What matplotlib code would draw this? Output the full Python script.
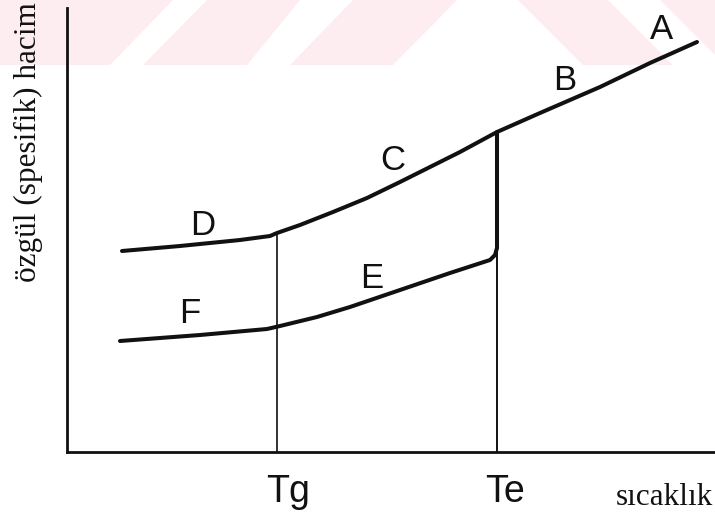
import matplotlib.pyplot as plt
from matplotlib.patches import Polygon

W, H = 715, 517  # piksel

# sıvı + cam eğrisi (A-B-C-D), keyfi birimler
ust_T = [55, 113, 173, 203, 210, 233, 266, 300, 333, 363, 393, 430, 473, 533, 583, 630]
ust_V = [201, 206, 212, 216, 219, 227, 240, 254, 270, 285, 300, 320, 339, 365, 389, 410]

# kristal eğrisi (Te'de düşüş, E-F)
alt_T = [53, 133, 200, 213, 250, 283, 333, 383, 423, 428, 430, 430]
alt_V = [111, 117, 123, 126, 135, 145, 162, 179, 192, 197, 204, 320]

Tg, Te = 210, 430
Tg_V, Te_V = 219, 204

harfler = ['A', 'B', 'C', 'D', 'E', 'F']
harf_yer = [(662, 39), (565, 90), (393, 170), (203, 235), (372, 288), (190, 323)]

sicaklik_etiket = ['Tg', 'Te']
sicaklik_yer = [(288, 502), (505, 502)]

# arka plandaki soluk pembe filigran (piksel)
filigran = [
    [(0, 0), (173, 0), (110, 65), (0, 65)],
    [(207, 0), (300, 0), (247, 65), (143, 65)],
    [(353, 0), (457, 0), (393, 65), (290, 65)],
    [(518, 0), (608, 0), (673, 65), (583, 65)],
    [(660, 0), (715, 0), (715, 55)],
]

renk = '#111111'
fig = plt.figure(figsize=(W / 100, H / 100), dpi=100)

bg = fig.add_axes([0, 0, 1, 1])
bg.set_xlim(0, W)
bg.set_ylim(H, 0)
bg.axis('off')
for p in filigran:
    bg.add_patch(Polygon(p, closed=True, fc='#fdedf0', ec='none'))

ax = fig.add_axes([67 / W, 65 / H, 648 / W, 444 / H])
ax.patch.set_alpha(0)
ax.set_xlim(0, 648)
ax.set_ylim(0, 444)
for s in ['top', 'right']:
    ax.spines[s].set_visible(False)
for s in ['left', 'bottom']:
    ax.spines[s].set_linewidth(2.0)
    ax.spines[s].set_color(renk)
ax.set_xticks([])
ax.set_yticks([])

ax.plot(ust_T, ust_V, color=renk, lw=2.9, solid_capstyle='round', solid_joinstyle='round')
ax.plot(alt_T, alt_V, color=renk, lw=2.9, solid_capstyle='round', solid_joinstyle='round')
ax.plot([Tg, Tg], [0, Tg_V], color=renk, lw=1.2)
ax.plot([Te, Te], [0, Te_V], color=renk, lw=1.4)

def px(x, y):
    return x / W, 1 - y / H

for h, (x, y) in zip(harfler, harf_yer):
    fig.text(*px(x, y), h, family='Liberation Sans', fontsize=25,
             ha='center', va='baseline', color=renk)

for h, (x, y) in zip(sicaklik_etiket, sicaklik_yer):
    fig.text(*px(x, y), h, family='Liberation Sans', fontsize=27,
             ha='center', va='baseline', color=renk)

fig.text(*px(713, 505), 'sıcaklık', family='Liberation Serif', fontsize=22.5,
         ha='right', va='baseline', color=renk)
fig.text(*px(28, 142), 'özgül (spesifik) hacim', family='Liberation Serif', fontsize=22.5,
         rotation=90, ha='center', va='center', color=renk)

fig.savefig('out.png', dpi=100)
